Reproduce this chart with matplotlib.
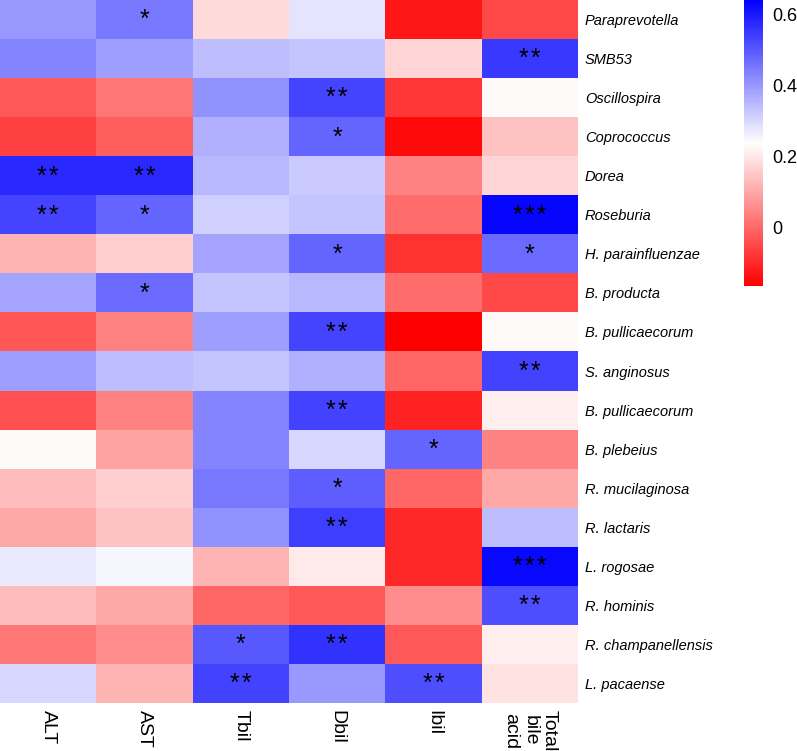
import numpy as np
import matplotlib
matplotlib.use("Agg")
import matplotlib.pyplot as plt
from matplotlib.colors import LinearSegmentedColormap

plt.rcParams['font.family'] = ['Liberation Sans', 'DejaVu Sans']

columns = ["ALT", "AST", "Tbil", "Dbil", "Ibil", "Total\nbile\nacid"]
taxa = ["Paraprevotella", "SMB53", "Oscillospira", "Coprococcus", "Dorea",
        "Roseburia", "H. parainfluenzae", "B. producta", "B. pullicaecorum",
        "S. anginosus", "B. pullicaecorum", "B. plebeius", "R. mucilaginosa",
        "R. lactaris", "L. rogosae", "R. hominis", "R. champanellensis",
        "L. pacaense"]

values = [
    [0.40, 0.45, 0.18, 0.28, -0.13, -0.05],
    [0.43, 0.39, 0.34, 0.33, 0.17, 0.55],
    [-0.025, 0.02, 0.41, 0.53, -0.08, 0.23],
    [-0.065, -0.016, 0.36, 0.48, -0.15, 0.14],
    [0.575, 0.575, 0.35, 0.32, 0.04, 0.17],
    [0.53, 0.48, 0.31, 0.33, 0.007, 0.63],
    [0.12, 0.16, 0.38, 0.48, -0.085, 0.47],
    [0.38, 0.47, 0.33, 0.35, 0.007, -0.05],
    [-0.03, 0.04, 0.39, 0.53, -0.166, 0.23],
    [0.39, 0.34, 0.33, 0.36, -0.005, 0.535],
    [-0.04, 0.04, 0.43, 0.535, -0.11, 0.21],
    [0.23, 0.09, 0.43, 0.30, 0.48, 0.04],
    [0.13, 0.16, 0.45, 0.49, -0.005, 0.10],
    [0.10, 0.14, 0.41, 0.54, -0.10, 0.34],
    [0.27, 0.25, 0.12, 0.205, -0.10, 0.625],
    [0.13, 0.10, -0.005, -0.025, 0.055, 0.515],
    [0.02, 0.055, 0.50, 0.56, -0.025, 0.21],
    [0.30, 0.12, 0.535, 0.40, 0.515, 0.19],
]

stars = [
    ["", "*", "", "", "", ""],
    ["", "", "", "", "", "**"],
    ["", "", "", "**", "", ""],
    ["", "", "", "*", "", ""],
    ["**", "**", "", "", "", ""],
    ["**", "*", "", "", "", "***"],
    ["", "", "", "*", "", "*"],
    ["", "*", "", "", "", ""],
    ["", "", "", "**", "", ""],
    ["", "", "", "", "", "**"],
    ["", "", "", "**", "", ""],
    ["", "", "", "", "*", ""],
    ["", "", "", "*", "", ""],
    ["", "", "", "**", "", ""],
    ["", "", "", "", "", "***"],
    ["", "", "", "", "", "**"],
    ["", "", "*", "**", "", ""],
    ["", "", "**", "", "**", ""],
]

cbar_ticks = [0, 0.2, 0.4, 0.6]
vmin, vmax = -0.166, 0.64

data = np.array(values)
cmap = LinearSegmentedColormap.from_list("rwb", ["#ff0000", "#ffffff", "#0000ff"], N=256)

W, H = 797, 751
fig = plt.figure(figsize=(W / 100, H / 100), dpi=100)
ax = fig.add_axes([0.0, 1 - 703 / H, 578 / W, 703 / H])
mesh = ax.pcolormesh(np.arange(len(columns) + 1), np.arange(len(taxa) + 1), data,
                     cmap=cmap, vmin=vmin, vmax=vmax, edgecolors='none')
ax.set_xlim(0, len(columns))
ax.set_ylim(len(taxa), 0)

for i in range(len(taxa)):
    for j in range(len(columns)):
        s = stars[i][j]
        if s:
            ax.text(j + 0.5, i + 0.52, "\u200a".join(s), ha='center', va='center',
                    fontsize=18, color='black')

for sp in ax.spines.values():
    sp.set_visible(False)

ax.set_xticks(np.arange(len(columns)) + 0.5)
ax.set_xticklabels(columns, rotation=270, fontsize=14, va='top', ha='center',
                   linespacing=1.15)
ax.set_yticks(np.arange(len(taxa)) + 0.5)
ax.set_yticklabels(taxa, fontsize=10.5, style='italic')
ax.yaxis.tick_right()
ax.tick_params(axis='both', length=0)
ax.tick_params(axis='y', pad=5)
ax.tick_params(axis='x', pad=5)

cax = fig.add_axes([744 / W, 1 - 286 / H, 19 / W, 286 / H])
cb = fig.colorbar(mesh, cax=cax, ticks=cbar_ticks)
cb.outline.set_visible(False)
cb.ax.set_yticklabels(["0", "0.2", "0.4", "0.6"])
cb.ax.tick_params(length=0, labelsize=13, pad=7)

fig.savefig("out.png", dpi=100)
